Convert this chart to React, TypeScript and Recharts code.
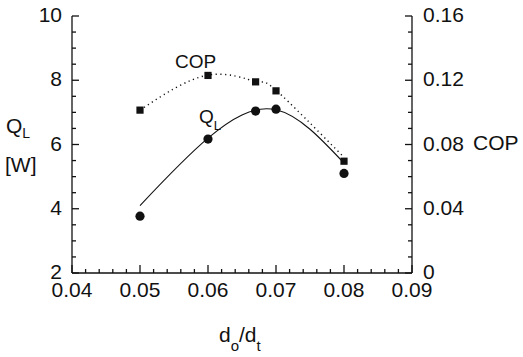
import React from "react";
import { ComposedChart, Line, XAxis, YAxis } from "recharts";

// d_o/d_t ratio of the measured points
const ratio = [0.05, 0.06, 0.067, 0.07, 0.08];
// measured cooling load [W] and COP
const qlMeasured = [3.77, 6.17, 7.04, 7.1, 5.1];
const copMeasured = [0.1014, 0.123, 0.119, 0.1134, 0.0696];
// fitted curves (null = no reading at that ratio)
const qlFit = [4.1, 6.2, null, 7.08, 5.42];
const copFit = [0.1014, 0.1232, 0.1192, 0.1138, 0.072];

const xMajor = [0.04, 0.05, 0.06, 0.07, 0.08, 0.09];
const xMinor = [
  0.042, 0.044, 0.046, 0.048, 0.052, 0.054, 0.056, 0.058, 0.062, 0.064,
  0.066, 0.068, 0.072, 0.074, 0.076, 0.078, 0.082, 0.084, 0.086, 0.088,
];
const qMajor = [2, 4, 6, 8, 10];
const qMinor = [2.5, 3, 3.5, 4.5, 5, 5.5, 6.5, 7, 7.5, 8.5, 9, 9.5];
const copMajor = [0, 0.04, 0.08, 0.12, 0.16];
const copMinor = [0.01, 0.02, 0.03, 0.05, 0.06, 0.07, 0.09, 0.1, 0.11, 0.13, 0.14, 0.15];

const data = ratio.map((x, i) => ({
  x,
  ql: qlMeasured[i],
  cop: copMeasured[i],
  qlFit: qlFit[i],
  copFit: copFit[i],
}));

const INK = "#111";
const FONT = "'Liberation Sans', Arial, sans-serif";

const has = (list: number[], v: number) => list.some((m) => Math.abs(m - v) < 1e-9);

function BottomTick(props: any) {
  const { x, y, payload } = props;
  const v = Number(payload.value);
  const major = has(xMajor, v);
  const len = major ? 8 : 4;
  return (
    <g>
      <path d={`M${x},${y}L${x},${y - len}`} stroke={INK} strokeWidth={1.3} fill="none" />
      {major && (
        <text x={x} y={y + 24} textAnchor="middle" fontSize={21} fontFamily={FONT} fill={INK}>
          {v.toFixed(2)}
        </text>
      )}
    </g>
  );
}

function LeftTick(props: any) {
  const { x, y, payload } = props;
  const v = Number(payload.value);
  const major = has(qMajor, v);
  const len = major ? 7 : 4;
  return (
    <g>
      <path d={`M${x},${y}L${x + len},${y}`} stroke={INK} strokeWidth={1.3} fill="none" />
      {major && (
        <text x={x - 10} y={y + 6} textAnchor="end" fontSize={21} fontFamily={FONT} fill={INK}>
          {String(v)}
        </text>
      )}
    </g>
  );
}

function RightTick(props: any) {
  const { x, y, payload } = props;
  const v = Number(payload.value);
  const major = has(copMajor, v);
  const len = major ? 7 : 4;
  return (
    <g>
      <path d={`M${x},${y}L${x - len},${y}`} stroke={INK} strokeWidth={1.3} fill="none" />
      {major && (
        <text x={x + 11} y={y + 6} textAnchor="start" fontSize={21} fontFamily={FONT} fill={INK}>
          {v === 0 ? "0" : v.toFixed(2)}
        </text>
      )}
    </g>
  );
}

const circleDot = (p: any) => (
  <circle key={`c-${p.index}`} cx={p.cx} cy={p.cy} r={4.6} fill={INK} />
);
const squareDot = (p: any) => (
  <rect key={`s-${p.index}`} x={p.cx - 3.6} y={p.cy - 3.6} width={7.2} height={7.2} fill={INK} />
);

export default function App() {
  return (
    <div style={{ position: "absolute", left: 0, top: 0, width: 523, height: 357, background: "#fff" }}>
      <ComposedChart width={523} height={357} data={data} margin={{ top: 16, right: 0, bottom: 0, left: 0 }}>
        <XAxis
          dataKey="x"
          type="number"
          domain={[0.04, 0.09]}
          ticks={[...xMajor, ...xMinor]}
          interval={0}
          height={84}
          tickSize={0}
          tickMargin={0}
          tickLine={false}
          tick={(p: any) => <BottomTick {...p} />}
          axisLine={{ stroke: INK, strokeWidth: 1.3 }}
        />
        <XAxis
          xAxisId="top"
          orientation="top"
          dataKey="x"
          type="number"
          domain={[0.04, 0.09]}
          height={0}
          tick={false}
          tickLine={false}
          axisLine={{ stroke: INK, strokeWidth: 1.3 }}
        />
        <YAxis
          yAxisId="q"
          type="number"
          domain={[2, 10]}
          ticks={[...qMajor, ...qMinor]}
          interval={0}
          width={72}
          tickSize={0}
          tickMargin={0}
          tickLine={false}
          tick={(p: any) => <LeftTick {...p} />}
          axisLine={{ stroke: INK, strokeWidth: 1.3 }}
        />
        <YAxis
          yAxisId="cop"
          orientation="right"
          type="number"
          domain={[0, 0.16]}
          ticks={[...copMajor, ...copMinor]}
          interval={0}
          width={111}
          tickSize={0}
          tickMargin={0}
          tickLine={false}
          tick={(p: any) => <RightTick {...p} />}
          axisLine={{ stroke: INK, strokeWidth: 1.3 }}
        />
        <Line
          yAxisId="cop"
          dataKey="copFit"
          type="natural"
          stroke={INK}
          strokeWidth={1.4}
          strokeDasharray="1.2 3.5"
          dot={false}
          activeDot={false}
          isAnimationActive={false}
        />
        <Line
          yAxisId="q"
          dataKey="qlFit"
          type="natural"
          connectNulls
          stroke={INK}
          strokeWidth={1.1}
          dot={false}
          activeDot={false}
          isAnimationActive={false}
        />
        <Line
          yAxisId="cop"
          dataKey="cop"
          stroke="none"
          dot={squareDot}
          activeDot={false}
          isAnimationActive={false}
        />
        <Line
          yAxisId="q"
          dataKey="ql"
          stroke="none"
          dot={circleDot}
          activeDot={false}
          isAnimationActive={false}
        />
      </ComposedChart>
      <svg
        width={523}
        height={357}
        style={{ position: "absolute", left: 0, top: 0, pointerEvents: "none" }}
        fontFamily={FONT}
        fill={INK}
      >
        <text x={6} y={133} fontSize={21}>
          Q<tspan fontSize={14} dy={5}>L</tspan>
        </text>
        <text x={5} y={172} fontSize={21}>[W]</text>
        <text x={473} y={150} fontSize={21}>COP</text>
        <text x={219} y={342} fontSize={21}>
          d<tspan fontSize={15} dy={9}>o</tspan>
          <tspan dy={-9}>/d</tspan>
          <tspan fontSize={15} dy={9}>t</tspan>
        </text>
        <text x={175} y={68} fontSize={19}>COP</text>
        <text x={199} y={123} fontSize={19}>
          Q<tspan fontSize={13} dy={7}>L</tspan>
        </text>
      </svg>
    </div>
  );
}
